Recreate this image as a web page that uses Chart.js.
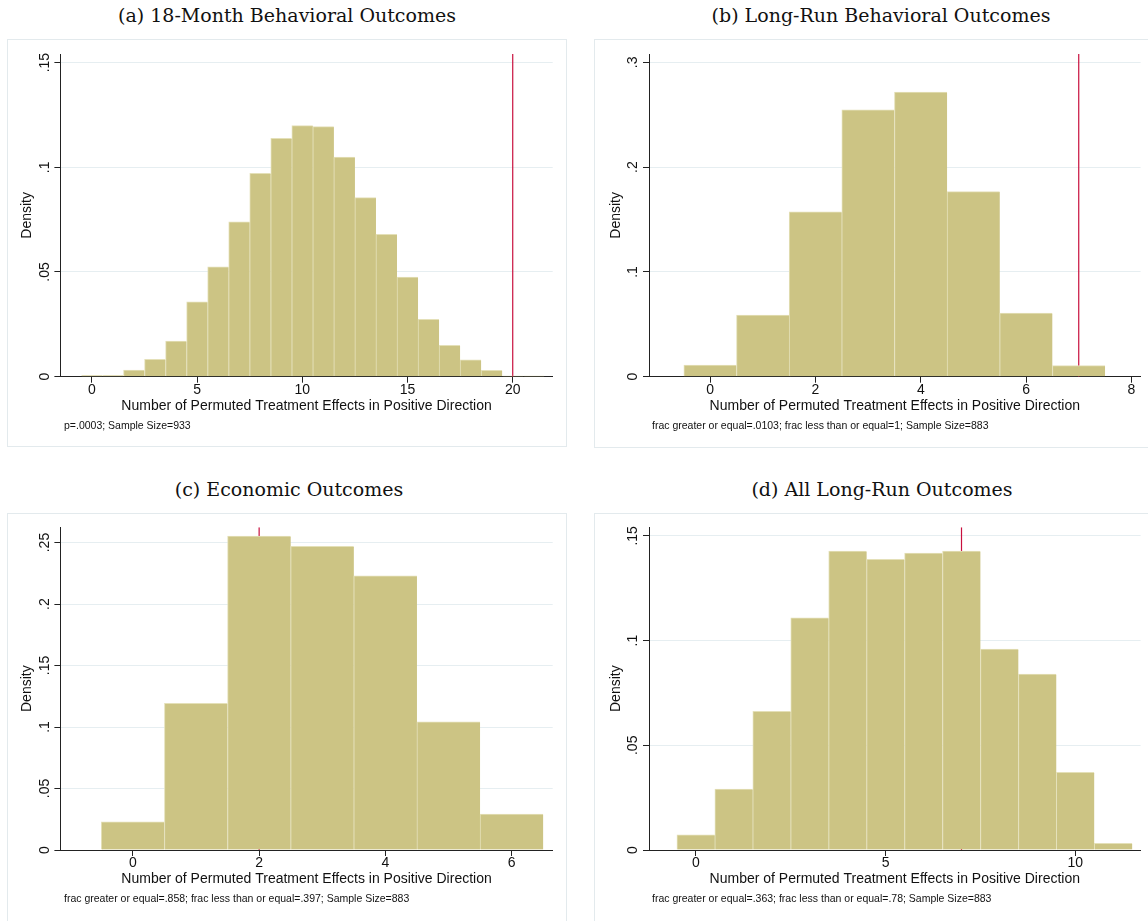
<!DOCTYPE html>
<html>
<head>
<meta charset="utf-8">
<script src="https://cdn.jsdelivr.net/npm/chart.js@4/dist/chart.umd.min.js"></script>
<style>
  html, body { margin: 0; padding: 0; background: #fff; }
  body { width: 1148px; height: 921px; overflow: hidden; position: relative;
         font-family: "Liberation Sans", Arial, sans-serif; color: #111; }
  .title { position: absolute; width: 560px; text-align: center; white-space: nowrap;
           font-family: "DejaVu Serif", "Liberation Serif", serif; font-size: 19px;
           line-height: 22px; color: #111; }
  .frame { position: absolute; border: 1px solid #e3eaed; box-sizing: border-box; }
  canvas { position: absolute; }
  .note { position: absolute; font-size: 10.5px; line-height: 12px; white-space: nowrap; color: #111; }
</style>
</head>
<body>
<div class="title" style="left:7px;top:4px">(a) 18-Month Behavioral Outcomes</div>
<div class="title" style="left:601px;top:4px">(b) Long-Run Behavioral Outcomes</div>
<div class="title" style="left:9px;top:478px">(c) Economic Outcomes</div>
<div class="title" style="left:602px;top:478px">(d) All Long-Run Outcomes</div>

<div class="frame" style="left:7px;top:39px;width:560px;height:408px"></div>
<div class="frame" style="left:594px;top:39px;width:560px;height:409px"></div>
<div class="frame" style="left:7px;top:513px;width:560px;height:420px"></div>
<div class="frame" style="left:594px;top:513px;width:560px;height:420px"></div>

<canvas id="chartA"></canvas>
<canvas id="chartB"></canvas>
<canvas id="chartC"></canvas>
<canvas id="chartD"></canvas>

<div class="note" style="left:64px;top:419px">p=.0003; Sample Size=933</div>
<div class="note" style="left:652px;top:419px">frac greater or equal=.0103; frac less than or equal=1; Sample Size=883</div>
<div class="note" style="left:64px;top:892px">frac greater or equal=.858; frac less than or equal=.397; Sample Size=883</div>
<div class="note" style="left:652px;top:892px">frac greater or equal=.363; frac less than or equal=.78; Sample Size=883</div>

<script>
// ---- Permutation histograms: bin centres and densities ----
const binsA = [0, 1, 2, 3, 4, 5, 6, 7, 8, 9, 10, 11, 12, 13, 14, 15, 16, 17, 18, 19, 20, 21];
const densityA = [0.0005, 0.0005, 0.0032, 0.0083, 0.0170, 0.0358, 0.0525, 0.0740, 0.0971, 0.1138, 0.1199,
                  0.1194, 0.1049, 0.0855, 0.0680, 0.0476, 0.0274, 0.0150, 0.0080, 0.0030, 0.0003, 0.0003];
const observedA = 20;
const xTicksA = [0, 5, 10, 15, 20];
const yTicksA = [0, 0.05, 0.1, 0.15];
const xRangeA = [-1.5, 21.9];
const yMaxA = 0.1541;

const binsB = [0, 1, 2, 3, 4, 5, 6, 7];
const densityB = [0.0112, 0.0589, 0.1573, 0.2547, 0.2716, 0.1767, 0.0608, 0.0105];
const observedB = 7;
const xTicksB = [0, 2, 4, 6, 8];
const yTicksB = [0, 0.1, 0.2, 0.3];
const xRangeB = [-1.162, 8.175];
const yMaxB = 0.308;

const binsC = [0, 1, 2, 3, 4, 5, 6];
const densityC = [0.0230, 0.1192, 0.2553, 0.2469, 0.2230, 0.1043, 0.0293];
const observedC = 2;
const xTicksC = [0, 2, 4, 6];
const yTicksC = [0, 0.05, 0.1, 0.15, 0.2, 0.25];
const xRangeC = [-1.148, 6.65];
const yMaxC = 0.2624;

const binsD = [0, 1, 2, 3, 4, 5, 6, 7, 8, 9, 10, 11];
const densityD = [0.0072, 0.0291, 0.0662, 0.1109, 0.1428, 0.1388, 0.1418, 0.1428, 0.0959, 0.0840, 0.0371, 0.0032];
const observedD = 7;
const xTicksD = [0, 5, 10];
const yTicksD = [0, 0.05, 0.1, 0.15];
const xRangeD = [-1.236, 11.72];
const yMaxD = 0.1541;

const xTitle = 'Number of Permuted Treatment Effects in Positive Direction';
const yTitle = 'Density';

// ---- styling ----
const BAR_FILL = 'rgb(204,196,132)';
const BAR_EDGE = 'rgb(228,224,184)';
const RED = '#c8103e';
const AXIS = '#222';
const GRID = '#e6eef1';

Chart.defaults.font.family = '"Liberation Sans", Arial, sans-serif';
Chart.defaults.color = '#111';
Chart.defaults.animation = false;

// Stata-style numeric labels: 0, .05, .1, .15 ...
const tickFmt = v => (v === 0 ? '0' : String(Math.round(v * 1000) / 1000).replace(/^0\./, '.'));

// frame box [left, top, width, height] on the page; plot area [left, top, right, bottom] inside the canvas
function drawHistogram(id, bins, density, observed, xTicks, yTicks, xRange, yMax, frame, area) {
  const cv = document.getElementById(id);
  const [fx, fy, fw, fh] = frame;
  const [aL, aT, aR, aB] = area;
  cv.style.left = fx + 'px';
  cv.style.top = fy + 'px';
  cv.width = fw;
  cv.height = fh;

  const tickLen = 6;
  const xAxisH = 52;
  const probe = document.createElement('canvas').getContext('2d');
  probe.font = '14px "Liberation Sans"';
  const widest = Math.max(...yTicks.map(v => probe.measureText(tickFmt(v)).width));

  return new Chart(cv, {
    type: 'bar',
    data: {
      datasets: [
        {
          type: 'bar',
          data: bins.map((b, i) => ({ x: b, y: density[i] })),
          backgroundColor: BAR_FILL,
          borderColor: BAR_EDGE,
          borderWidth: { left: 1, top: 1, right: 0, bottom: 0 },
          barPercentage: 1,
          categoryPercentage: 1,
          order: 1
        },
        {
          type: 'line',
          data: [{ x: observed, y: 0 }, { x: observed, y: yMax }],
          borderColor: RED,
          borderWidth: 1.2,
          pointRadius: 0,
          order: 2
        }
      ]
    },
    options: {
      responsive: false,
      devicePixelRatio: 1,
      animation: false,
      events: [],
      layout: { padding: { left: 0, top: aT, right: fw - aR, bottom: fh - aB - xAxisH } },
      plugins: { legend: { display: false }, tooltip: { enabled: false } },
      scales: {
        x: {
          type: 'linear',
          min: xRange[0],
          max: xRange[1],
          offset: false,
          afterBuildTicks: s => { s.ticks = xTicks.map(v => ({ value: v })); },
          afterFit: s => { s.height = xAxisH; },
          grid: { display: true, drawOnChartArea: false, tickLength: tickLen, tickColor: AXIS, offset: false },
          border: { display: true, color: AXIS, width: 1 },
          ticks: { font: { size: 14 }, padding: -1, maxRotation: 0, autoSkip: false, color: '#111',
                   callback: v => tickFmt(v) },
          title: { display: true, text: xTitle, font: { size: 14 }, color: '#111',
                   padding: { top: 0, bottom: 14 } }
        },
        y: {
          min: 0,
          max: yMax,
          afterBuildTicks: s => { s.ticks = yTicks.map(v => ({ value: v })); },
          afterFit: s => { s.width = aL; },
          grid: { color: GRID, tickColor: AXIS, tickLength: tickLen, lineWidth: 1 },
          border: { display: true, color: AXIS, width: 1 },
          ticks: { font: { size: 14 }, minRotation: 90, maxRotation: 90, crossAlign: 'center',
                   padding: 15.5 - tickLen - widest / 2, autoSkip: false, color: '#111',
                   callback: v => tickFmt(v) },
          title: { display: true, text: yTitle, font: { size: 14 }, color: '#111',
                   padding: { top: aL - 33 - 8.4, bottom: 0 } }
        }
      }
    }
  });
}

drawHistogram('chartA', binsA, densityA, observedA, xTicksA, yTicksA, xRangeA, yMaxA,
              [7, 39, 560, 408], [53.4, 15, 545.7, 337.7]);
drawHistogram('chartB', binsB, densityB, observedB, xTicksB, yTicksB, xRangeB, yMaxB,
              [594, 39, 560, 409], [55, 15, 546.6, 337.7]);
drawHistogram('chartC', binsC, densityC, observedC, xTicksC, yTicksC, xRangeC, yMaxC,
              [7, 513, 560, 408], [53.4, 14.3, 545.7, 337]);
drawHistogram('chartD', binsD, densityD, observedD, xTicksD, yTicksD, xRangeD, yMaxD,
              [594, 513, 560, 408], [55, 14.3, 546.6, 337]);
</script>
</body>
</html>
